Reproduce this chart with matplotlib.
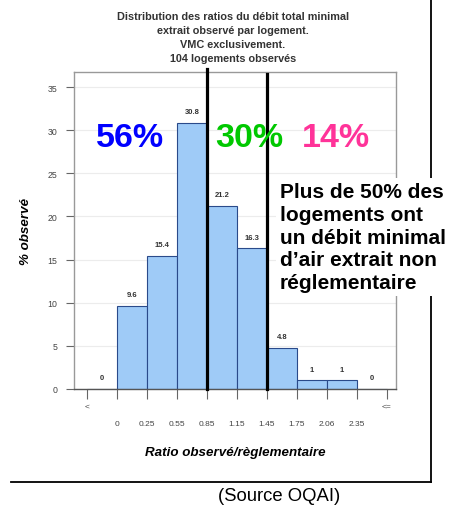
import matplotlib
matplotlib.use('Agg')
import matplotlib.pyplot as plt
from matplotlib.lines import Line2D

plt.rcParams['font.family'] = ['Liberation Sans', 'DejaVu Sans']

# classes du ratio observé/règlementaire
edge_labels = ['<', '0', '0.25', '0.55', '0.85', '1.15', '1.45', '1.75', '2.06', '2.35', '<=']
pct = [0, 9.6, 15.4, 30.8, 21.2, 16.3, 4.8, 1, 1, 0]
val_labels = ['0', '9.6', '15.4', '30.8', '21.2', '16.3', '4.8', '1', '1', '0']
split_edges = [4, 6]          # limites 0.85 et 1.45
parts = ['56%', '30%', '14%']
part_colors = ['#0000ff', '#00c800', '#ff3399']
part_x = [1.45, 5.4, 8.3]

W, H = 450, 510
fig = plt.figure(figsize=(4.5, 5.1), dpi=100)
ax = fig.add_axes([74 / W, 1 - 390 / H, (396 - 74) / W, (390 - 73) / H])

edges = list(range(len(edge_labels)))
centers = [e + 0.5 for e in edges[:-1]]
ax.bar(centers, pct, width=1.0, color='#9fcbf7', edgecolor='#2a4a8a', linewidth=0.8, zorder=2)
for c, v, s in zip(centers, pct, val_labels):
    ax.text(c, v + 0.9, s, ha='center', va='bottom', fontsize=5.5, fontweight='bold', color='#333333')

ax.set_xlim(-0.433, 10.3)
ax.set_ylim(0, 36.74)
ax.set_yticks(range(0, 36, 5))
ax.set_yticklabels([str(v) for v in range(0, 36, 5)])
ax.grid(axis='y', color='#ececec', linewidth=0.8, zorder=0)
ax.set_xticks(edges)
ax.set_xticklabels(edge_labels)
for i, t in enumerate(ax.xaxis.get_major_ticks()):
    t.set_pad(3 if edge_labels[i] in ('<', '<=') else 15)
ax.tick_params(axis='x', length=7, width=0.8, color='#666666', labelsize=6, labelcolor='#444444', direction='out')
ax.tick_params(axis='y', length=6, width=0.8, color='#666666', labelsize=6.3, labelcolor='#444444', pad=6)
for s in ax.spines.values():
    s.set_color('#999999')
    s.set_linewidth(1.0)
ax.spines['bottom'].set_color('#555555')

ax.set_xlabel('Ratio observé/règlementaire', fontsize=9.6, fontweight='bold', fontstyle='italic', labelpad=14)
ax.set_ylabel('% observé', fontsize=9.6, fontweight='bold', fontstyle='italic', labelpad=11)

# lignes de séparation
for e, top in zip(split_edges, [37.1, 36.5]):
    ax.plot([e, e], [0, top], color='black', linewidth=2.3, clip_on=False, zorder=4)

for s, c, x in zip(parts, part_colors, part_x):
    ax.text(x, 29.1, s, color=c, fontsize=24.5, fontweight='bold', ha='center', va='center', zorder=5)

fig.text(233 / W, 1 - 38 / H,
         'Distribution des ratios du débit total minimal\nextrait observé par logement.\nVMC exclusivement.\n104 logements observés',
         ha='center', va='center', fontsize=7.8, fontweight='bold', color='#333333', linespacing=1.5)

fig.text(280 / W, 1 - 238 / H,
         'Plus de 50% des\nlogements ont\nun débit minimal\nd\u2019air extrait non\nréglementaire',
         ha='left', va='center', fontsize=15, fontweight='bold', color='black', linespacing=1.26,
         bbox=dict(facecolor='white', edgecolor='none', pad=3), zorder=10)

# cadre extérieur
fig.add_artist(Line2D([431 / W, 431 / W], [1 - 483 / H, 1.0], transform=fig.transFigure, color='black', linewidth=1.3, zorder=1))
fig.add_artist(Line2D([11 / W, 431 / W], [1 - 483 / H, 1 - 483 / H], transform=fig.transFigure, color='black', linewidth=1.3, zorder=1))

fig.text(279 / W, 1 - 497 / H, '(Source OQAI)', ha='center', va='center', fontsize=13.3, color='black')

fig.savefig('out.png', dpi=100)
